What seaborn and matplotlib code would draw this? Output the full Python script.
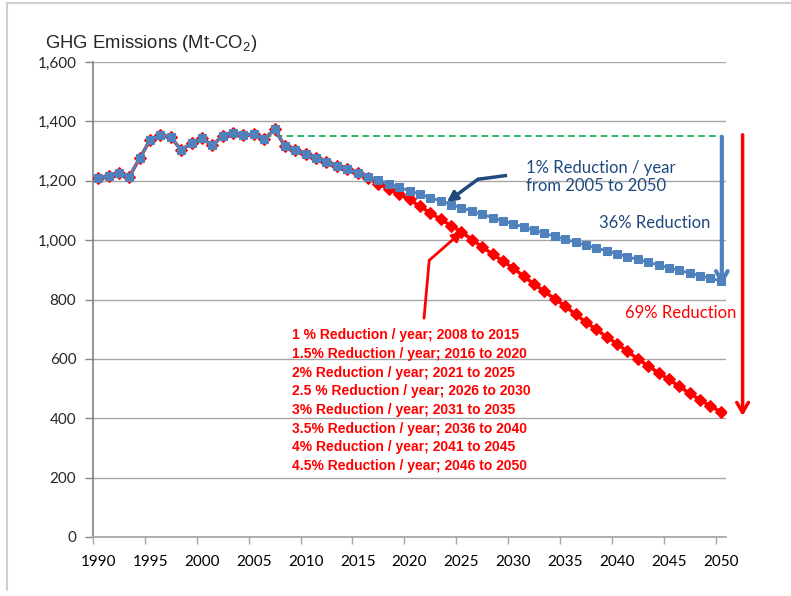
import numpy as np
import pandas as pd
import matplotlib.pyplot as plt
import seaborn as sns

# historical emissions 1990-2007 (Mt-CO2)
hist_years = list(range(1990, 2008))
hist_vals = [1208, 1216, 1225, 1214, 1276, 1337, 1354, 1346, 1304, 1326,
             1343, 1319, 1352, 1360, 1355, 1356, 1340, 1374]

# projections 2008-2050
proj_years = list(range(2008, 2051))
blue_proj = [1316, 1303, 1290, 1277, 1264, 1251, 1239, 1226, 1214, 1202,
             1190, 1178, 1166, 1155, 1143, 1132, 1120, 1109, 1098, 1087,
             1076, 1065, 1055, 1044, 1034, 1023, 1013, 1003, 993, 983,
             973, 964, 954, 944, 935, 926, 916, 907, 898, 889,
             880, 871, 863]
red_proj = [1316, 1303, 1290, 1277, 1264, 1251, 1239, 1226, 1208, 1190,
            1172, 1154, 1137, 1114, 1092, 1070, 1049, 1028, 1002, 977,
            953, 929, 906, 878, 852, 827, 802, 778, 750, 724,
            699, 674, 651, 625, 600, 576, 553, 531, 507, 484,
            462, 441, 422]

flat_years = [2005, 2050]
flat_vals = [1350, 1350]

red_notes = ["1 % Reduction / year; 2008 to 2015",
             "1.5% Reduction / year; 2016 to 2020",
             "2% Reduction / year; 2021 to 2025",
             "2.5 % Reduction / year; 2026 to 2030",
             "3% Reduction / year; 2031 to 2035",
             "3.5% Reduction / year; 2036 to 2040",
             "4% Reduction / year; 2041 to 2045",
             "4.5% Reduction / year; 2046 to 2050"]

blue_df = pd.DataFrame({"year": hist_years + proj_years, "value": hist_vals + blue_proj})
red_df = pd.DataFrame({"year": hist_years + proj_years, "value": hist_vals + red_proj})
flat_df = pd.DataFrame({"year": flat_years, "value": flat_vals})

sns.set_theme(style="white")
plt.rcParams["font.family"] = ["Lato", "DejaVu Sans"]

fig = plt.figure(figsize=(7.91, 5.96), dpi=100)
ax = fig.add_axes([93 / 791, 1 - 537 / 596, (726 - 93) / 791, (537 - 62) / 596])

BLUE = "#4F81BD"
NAVY = "#1F497D"
RED = "#FF0000"

sns.lineplot(data=red_df, x="year", y="value", ax=ax, color=RED, lw=2.5,
             marker="D", markersize=6, markeredgecolor=RED, zorder=3)
sns.lineplot(data=blue_df, x="year", y="value", ax=ax, color=BLUE, lw=2,
             marker="s", markersize=6, markeredgecolor=BLUE, zorder=4)
sns.lineplot(data=flat_df, x="year", y="value", ax=ax, color="#00B050", lw=1.2,
             linestyle=(0, (4, 2.5)), zorder=2)

ax.set_xlim(1989.5, 2050.5)
ax.set_ylim(0, 1600)
ax.set_xlabel("")
ax.set_ylabel("")

# category-style axis: labels at years, ticks between categories
ax.set_xticks(range(1990, 2051, 5))
ax.set_xticks([y - 0.5 for y in range(1990, 2051, 5)], minor=True)
ax.tick_params(axis="x", which="major", length=0, pad=13, labelsize=11, colors="#000000")
ax.tick_params(axis="x", which="minor", length=5, width=1, color="#A6A6A6", direction="out", bottom=True)
ax.set_yticks(range(0, 1601, 200))
ax.set_yticklabels([f"{v:,}" for v in range(0, 1601, 200)])
ax.tick_params(axis="y", length=6, width=1, color="#868686", direction="out", left=True,
               labelsize=11, pad=6)

ax.grid(axis="y", color="#A6A6A6", lw=1)
ax.set_axisbelow(True)
for s in ["top", "right"]:
    ax.spines[s].set_visible(False)
ax.spines["left"].set_color("#868686")
ax.spines["bottom"].set_color("#A6A6A6")

# title
fig.text(45 / 791, 1 - 43 / 596, "GHG Emissions (Mt-CO$_\\mathregular{2}$)",
         fontsize=13.3, family="Liberation Sans", va="center", ha="left")

# blue annotation
ax.text(2031.2, 1212, "1% Reduction / year\nfrom 2005 to 2050", color=NAVY,
        fontsize=12, ha="left", va="center", linespacing=1.15)
ax.plot([2029.4, 2026.6], [1218, 1205], color=NAVY, lw=2.5, solid_capstyle="butt")
ax.annotate("", xy=(2023.6, 1128), xytext=(2026.6, 1205),
            arrowprops=dict(arrowstyle="-|>,head_length=0.5,head_width=0.25",
                            color=NAVY, lw=2.5, shrinkA=0, shrinkB=0))
ax.text(2049.0, 1058, "36% Reduction", color=NAVY, fontsize=12, ha="right", va="center")
ax.annotate("", xy=(2050.1, 848), xytext=(2050.1, 1348),
            arrowprops=dict(arrowstyle="->,head_length=0.6,head_width=0.35",
                            color=BLUE, lw=3, shrinkA=0, shrinkB=0))

# red annotation
ax.text(2040.8, 754, "69% Reduction", color=RED, fontsize=12, ha="left", va="center")
ax.annotate("", xy=(2052.1, 408), xytext=(2052.1, 1355),
            arrowprops=dict(arrowstyle="->,head_length=0.6,head_width=0.35",
                            color=RED, lw=2.5, shrinkA=0, shrinkB=0),
            annotation_clip=False)
ax.plot([2021.4, 2021.9], [737, 932], color=RED, lw=2)
ax.annotate("", xy=(2025.1, 1030), xytext=(2021.9, 932),
            arrowprops=dict(arrowstyle="-|>,head_length=0.5,head_width=0.25",
                            color=RED, lw=2, shrinkA=0, shrinkB=0))
for i, line in enumerate(red_notes):
    ax.text(2008.7, 680 - i * 63, line, color=RED, fontsize=10, fontweight="bold",
            family="Liberation Sans", ha="left", va="center")

# frame lines at the left and top edges of the image
fig.add_artist(plt.Line2D([7 / 791, 7 / 791], [0.01, 1 - 3 / 596], color="#D0D0D0", lw=1.5,
                          transform=fig.transFigure))
fig.add_artist(plt.Line2D([7 / 791, 1.0], [1 - 3 / 596, 1 - 3 / 596], color="#D0D0D0", lw=1.5,
                          transform=fig.transFigure))

fig.savefig("out.png", dpi=100)
